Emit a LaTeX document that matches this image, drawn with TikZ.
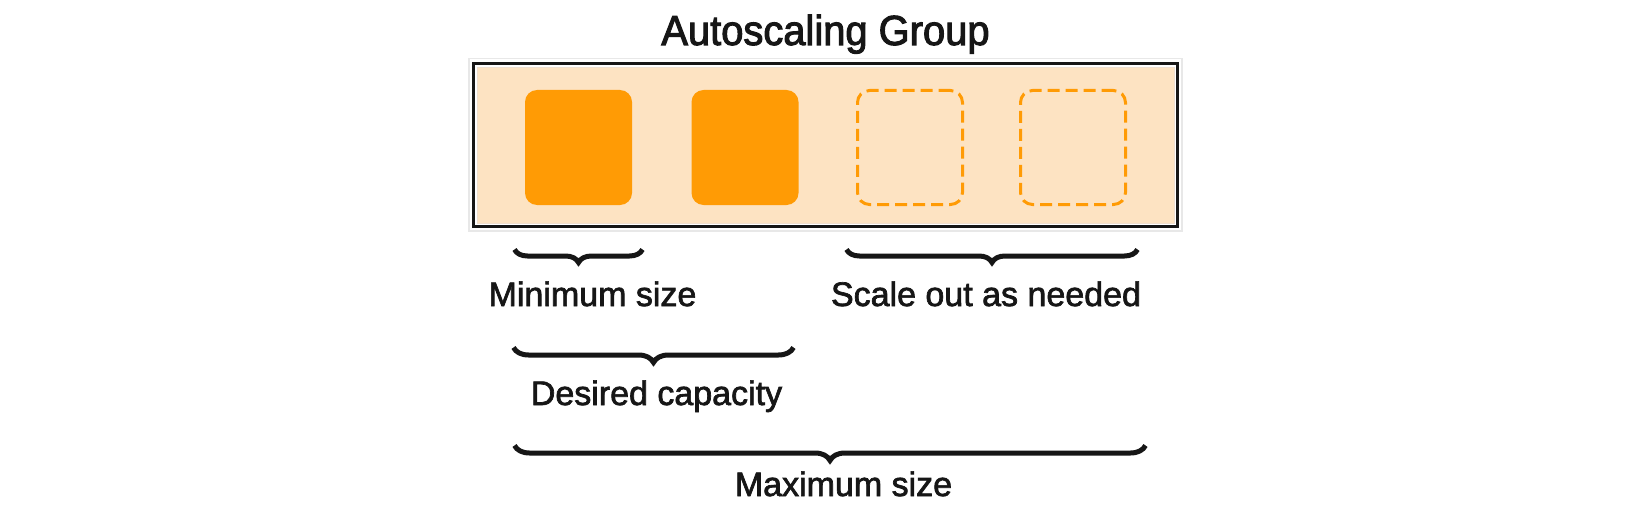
\documentclass[tikz,border=0pt]{standalone}
\usepackage{fontspec}
\setmainfont{Liberation Sans}[FakeBold=2]
\newfontfamily\ttlfont{Liberation Sans}[FakeBold=2.4,FakeStretch=0.95]
\usetikzlibrary{decorations.pathreplacing}
\definecolor{peach}{HTML}{FDE3C2}
\definecolor{orng}{HTML}{FF9B05}
\definecolor{ink}{HTML}{161616}
\begin{document}
\begin{tikzpicture}[x=1pt,y=-1pt,
  inst/.style={draw=none,fill=orng,rounded corners=12pt,minimum width=107pt,minimum height=115pt,inner sep=0pt},
  spare/.style={draw=orng,line width=3pt,dash pattern=on 12pt off 6pt,rounded corners=12pt,minimum width=105pt,minimum height=114pt,inner sep=0pt},
  lbl/.style={font=\fontsize{34}{38}\selectfont,text=ink,anchor=base,inner sep=0pt},
  ttl/.style={font=\ttlfont\fontsize{42}{46}\selectfont,text=ink,anchor=base,inner sep=0pt},
  brc/.style={draw=ink,line width=5pt,decorate,decoration={brace,mirror,amplitude=#1}},
  brc/.default=14pt]
\useasboundingbox (0,0) rectangle (1650,511);
\fill[white] (0,0) rectangle (1650,511);
% title
\node[ttl] (title) at (825.5,45) {Autoscaling Group};
% group box
\draw[gray!18,line width=1.5pt] (469,58.5) rectangle (1182,231);
\node[draw=ink,line width=3.5pt,fill=white,minimum width=704pt,minimum height=163pt,inner sep=0pt] (grp) at (825.5,145) {};
\fill[peach,draw=brown!25,line width=0.6pt] (477,67) rectangle (1174,223);
% instances
\node[inst] (i1) at (578.5,147.5) {};
\node[inst] (i2) at (745,147.5) {};
\node[spare] (i3) at (910,147.5) {};
\node[spare] (i4) at (1073,147.5) {};
% braces
\coordinate (minL) at (514.5,249.5);
\coordinate (minR) at (642.5,249.5);
\coordinate (scL) at (846.5,249.5);
\coordinate (scR) at (1137.5,249.5);
\coordinate (deL) at (513.5,347.5);
\coordinate (deR) at (793.5,347.5);
\coordinate (mxL) at (514.5,445.5);
\coordinate (mxR) at (1145.5,445.5);
\draw[brc=13pt] (minL) -- (minR);
\draw[brc=13pt] (scL) -- (scR);
\draw[brc=15pt] (deL) -- (deR);
\draw[brc=15pt] (mxL) -- (mxR);
% labels
\node[lbl] (lmin) at (592.5,306) {Minimum size};
\node[lbl] (lsc) at (986,306) {Scale out as needed};
\node[lbl] (lde) at (656.5,405) {Desired capacity};
\node[lbl] (lmx) at (843.5,496) {Maximum size};
\end{tikzpicture}
\end{document}
